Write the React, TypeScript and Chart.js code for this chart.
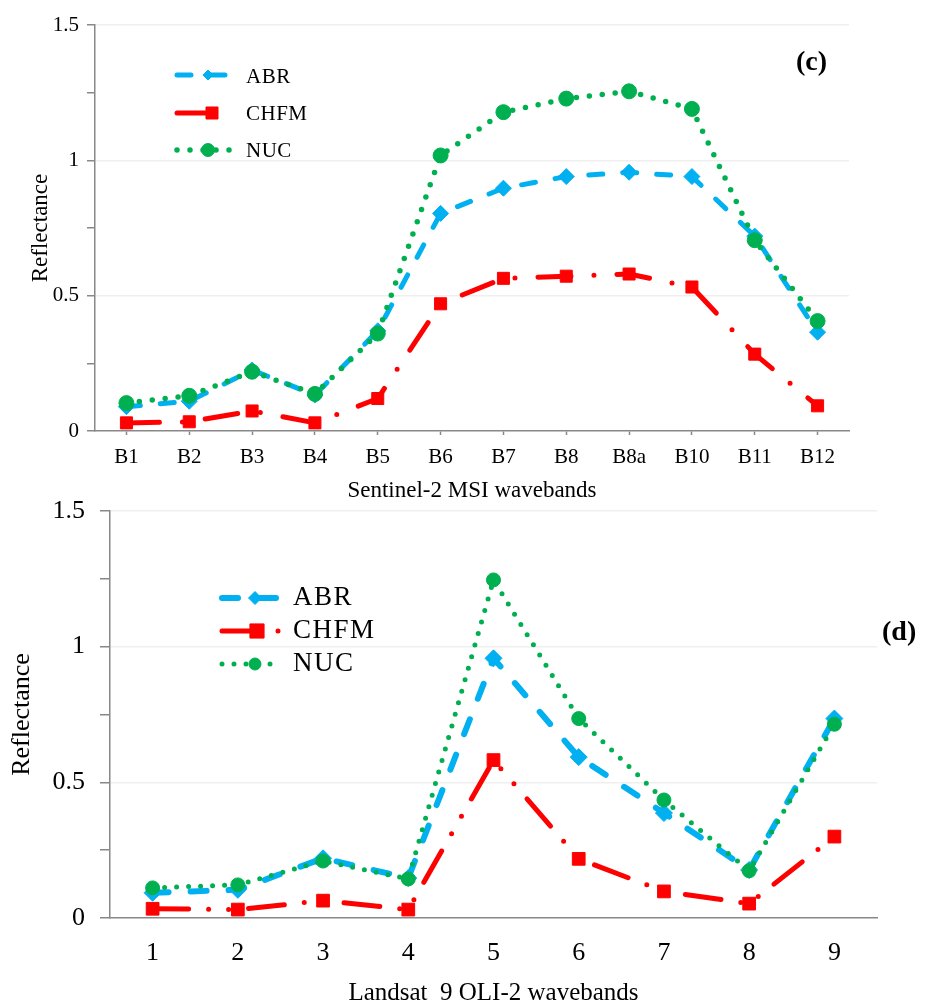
import React, { useEffect, useRef } from 'react';
import { Chart, registerables } from 'chart.js';

Chart.register(...registerables);

// ---------- data ----------
const sentinelBands = ['B1', 'B2', 'B3', 'B4', 'B5', 'B6', 'B7', 'B8', 'B8a', 'B10', 'B11', 'B12'];
const s2ABR = [0.09, 0.11, 0.225, 0.133, 0.37, 0.804, 0.897, 0.94, 0.956, 0.94, 0.72, 0.365];
const s2CHFM = [0.03, 0.034, 0.074, 0.03, 0.12, 0.47, 0.564, 0.572, 0.58, 0.532, 0.284, 0.093];
const s2NUC = [0.103, 0.13, 0.219, 0.137, 0.36, 1.018, 1.178, 1.228, 1.255, 1.19, 0.705, 0.406];

const landsatBands = ['1', '2', '3', '4', '5', '6', '7', '8', '9'];
const l9ABR = [0.093, 0.104, 0.22, 0.147, 0.957, 0.593, 0.387, 0.177, 0.735];
const l9CHFM = [0.034, 0.031, 0.064, 0.031, 0.582, 0.218, 0.098, 0.053, 0.3];
const l9NUC = [0.111, 0.122, 0.21, 0.144, 1.246, 0.735, 0.435, 0.174, 0.714];

const seriesNames = ['ABR', 'CHFM', 'NUC'];
const yTickStep = 0.25;
const yMax = 1.5;

// ---------- styles ----------
const FONT = "'Liberation Serif', 'Times New Roman', serif";
const C_ABR = '#00B0F0';
const C_CHFM = '#FF0000';
const C_NUC = '#00B050';
const AXIS = '#888888';

function drawMarker(ctx: CanvasRenderingContext2D, style: string, x: number, y: number, r: number, color: string) {
  ctx.save();
  ctx.fillStyle = color;
  ctx.strokeStyle = color;
  ctx.lineWidth = 1;
  ctx.setLineDash([]);
  ctx.beginPath();
  if (style === 'rectRot') {
    ctx.moveTo(x, y - r);
    ctx.lineTo(x + r, y);
    ctx.lineTo(x, y + r);
    ctx.lineTo(x - r, y);
    ctx.closePath();
  } else if (style === 'rect') {
    const s = r * Math.SQRT1_2;
    ctx.rect(x - s, y - s, 2 * s, 2 * s);
  } else {
    ctx.arc(x, y, r, 0, Math.PI * 2);
  }
  ctx.fill();
  ctx.stroke();
  ctx.restore();
}

const inlineLegend = {
  id: 'inlineLegend',
  afterDraw(chart: any, _args: any, opts: any) {
    const ctx: CanvasRenderingContext2D = chart.ctx;
    chart.data.datasets.forEach((ds: any, i: number) => {
      const y = opts.ys[i];
      ctx.save();
      ctx.strokeStyle = ds.borderColor;
      ctx.lineWidth = ds.borderWidth;
      ctx.lineCap = ds.borderCapStyle || 'butt';
      ctx.setLineDash(ds.borderDash || []);
      ctx.beginPath();
      ctx.moveTo(opts.x0, y);
      ctx.lineTo(opts.x1[i], y);
      ctx.stroke();
      ctx.restore();
      drawMarker(ctx, ds.pointStyle, opts.markerX[i], y, opts.markerR[i], ds.borderColor);
      ctx.save();
      ctx.fillStyle = '#000';
      ctx.font = `${opts.fontSize}px ${FONT}`;
      if ('letterSpacing' in ctx) (ctx as any).letterSpacing = `${opts.letterSpacing || 0}px`;
      ctx.textAlign = 'left';
      ctx.textBaseline = 'middle';
      ctx.fillText(ds.label, opts.textX, opts.textYs ? opts.textYs[i] : y);
      ctx.restore();
    });
  },
};

const isMajor = (v: number) => Math.abs(v * 2 - Math.round(v * 2)) < 1e-6;

type Panel = {
  labels: string[];
  abr: number[];
  chfm: number[];
  nuc: number[];
  width: number;
  height: number;
  padTop: number;
  padRight: number;
  yAxisWidth: number;
  xAxisHeight: number;
  tickFont: number;
  yTickLen: number;
  yTickPad: number;
  xTickLen: number;
  xTickPad: number;
  yTitle: string;
  yTitleFont: number;
  yTitlePad: number;
  xTitle: string;
  xTitleFont: number;
  xTitlePad: number;
  lineW: number[];
  dashes: number[][];
  pointR: number[];
  legend: any;
};

function buildConfig(p: Panel): any {
  const styles = ['rectRot', 'rect', 'circle'];
  const colors = [C_ABR, C_CHFM, C_NUC];
  const values = [p.abr, p.chfm, p.nuc];
  const orders = [2, 1, 0];
  return {
    type: 'line',
    data: {
      labels: p.labels,
      datasets: values.map((v, i) => ({
        label: seriesNames[i],
        data: v,
        borderColor: colors[i],
        backgroundColor: colors[i],
        borderWidth: p.lineW[i],
        borderDash: p.dashes[i],
        borderCapStyle: 'round',
        borderJoinStyle: 'round',
        tension: 0,
        fill: false,
        pointStyle: styles[i],
        pointRadius: p.pointR[i],
        pointBorderWidth: 1,
        pointBackgroundColor: colors[i],
        pointBorderColor: colors[i],
        order: orders[i],
      })),
    },
    options: {
      responsive: false,
      animation: false,
      events: [],
      layout: { padding: { top: p.padTop, right: p.padRight, left: 0, bottom: 0 } },
      plugins: {
        legend: { display: false },
        tooltip: { enabled: false },
        inlineLegend: p.legend,
      },
      scales: {
        x: {
          type: 'category',
          offset: true,
          afterFit: (s: any) => {
            s.height = p.xAxisHeight;
          },
          grid: {
            display: true,
            drawOnChartArea: false,
            offset: false,
            drawTicks: p.xTickLen > 0,
            tickLength: p.xTickLen,
            tickColor: AXIS,
            tickWidth: 1.5,
          },
          border: { display: true, color: AXIS, width: 1.5 },
          ticks: {
            color: '#000',
            font: { family: FONT, size: p.tickFont },
            padding: p.xTickPad,
            maxRotation: 0,
            autoSkip: false,
          },
          title: {
            display: true,
            text: p.xTitle,
            color: '#000',
            font: { family: FONT, size: p.xTitleFont, lineHeight: 1 },
            padding: { top: 0, bottom: p.xTitlePad },
          },
        },
        y: {
          type: 'linear',
          min: 0,
          max: yMax,
          afterFit: (s: any) => {
            s.width = p.yAxisWidth;
          },
          grid: {
            drawOnChartArea: true,
            color: (c: any) =>
              c.tick && isMajor(c.tick.value) && c.tick.value > 0 ? '#efefef' : 'rgba(0,0,0,0)',
            lineWidth: 1.5,
            drawTicks: true,
            tickLength: p.yTickLen,
            tickColor: AXIS,
            tickWidth: 1.5,
          },
          border: { display: true, color: AXIS, width: 1.5 },
          ticks: {
            stepSize: yTickStep,
            autoSkip: false,
            color: '#000',
            padding: p.yTickPad,
            font: { family: FONT, size: p.tickFont },
            callback: (v: number) => (isMajor(v) ? String(Math.round(v * 10) / 10) : ''),
          },
          title: {
            display: true,
            text: p.yTitle,
            color: '#000',
            font: { family: FONT, size: p.yTitleFont },
            padding: { top: p.yTitlePad, bottom: 0 },
          },
        },
      },
    },
    plugins: [inlineLegend],
  };
}

const topPanel: Panel = {
  labels: sentinelBands,
  abr: s2ABR,
  chfm: s2CHFM,
  nuc: s2NUC,
  width: 928,
  height: 520,
  padTop: 25,
  padRight: 79,
  yAxisWidth: 95,
  xAxisHeight: 89,
  tickFont: 21,
  yTickLen: 8,
  yTickPad: 8,
  xTickLen: 4,
  xTickPad: 10,
  yTitle: 'Reflectance',
  yTitleFont: 23,
  yTitlePad: 27,
  xTitle: 'Sentinel-2 MSI wavebands',
  xTitleFont: 23,
  xTitlePad: 18,
  lineW: [5, 5, 5.5],
  dashes: [[14, 20], [33, 23, 0, 23], [0, 13]],
  pointR: [8, 8.5, 7.5],
  legend: {
    x0: 177,
    x1: [233, 213, 237],
    markerX: [208, 212, 208],
    markerR: [5, 8.5, 6.5],
    textX: 246,
    ys: [75, 113, 150],
    textYs: [77, 114, 151],
    fontSize: 21,
    letterSpacing: 0.5,
  },
};

const bottomPanel: Panel = {
  labels: landsatBands,
  abr: l9ABR,
  chfm: l9CHFM,
  nuc: l9NUC,
  width: 928,
  height: 527,
  padTop: 31,
  padRight: 51,
  yAxisWidth: 110,
  xAxisHeight: 89,
  tickFont: 26,
  yTickLen: 10,
  yTickPad: 15,
  xTickLen: 0,
  xTickPad: 20,
  yTitle: 'Reflectance',
  yTitleFont: 26,
  yTitlePad: 7,
  xTitle: 'Landsat  9 OLI-2 wavebands',
  xTitleFont: 25,
  xTitlePad: 1,
  lineW: [6, 5, 5],
  dashes: [[16, 22], [36, 20, 0, 20, 0, 20], [0, 12]],
  pointR: [8.5, 9, 7],
  legend: {
    x0: 222,
    x1: [282, 285, 282],
    markerX: [255, 257, 255],
    markerR: [6.5, 10, 6],
    textX: 293,
    ys: [118, 151, 184],
    fontSize: 27,
    letterSpacing: 1.5,
  },
};

function ChartPanel({ panel, top }: { panel: Panel; top: number }) {
  const ref = useRef<HTMLCanvasElement | null>(null);
  useEffect(() => {
    if (!ref.current) return;
    const chart = new Chart(ref.current, buildConfig(panel));
    return () => chart.destroy();
  }, [panel]);
  return (
    <canvas
      ref={ref}
      width={panel.width}
      height={panel.height}
      style={{ position: 'absolute', left: 0, top, width: panel.width, height: panel.height, display: 'block' }}
    />
  );
}

export default function App() {
  const tagStyle: React.CSSProperties = {
    position: 'absolute',
    fontFamily: FONT,
    fontWeight: 'bold',
    fontSize: 28,
    lineHeight: '28px',
    color: '#000',
    whiteSpace: 'nowrap',
  };
  return (
    <div style={{ position: 'absolute', left: 0, top: 0, width: 928, height: 1007, background: '#fff', overflow: 'hidden' }}>
      <ChartPanel panel={topPanel} top={0} />
      <ChartPanel panel={bottomPanel} top={480} />
      <div style={{ ...tagStyle, left: 796, top: 47 }}>(c)</div>
      <div style={{ ...tagStyle, left: 882, top: 617 }}>(d)</div>
    </div>
  );
}
